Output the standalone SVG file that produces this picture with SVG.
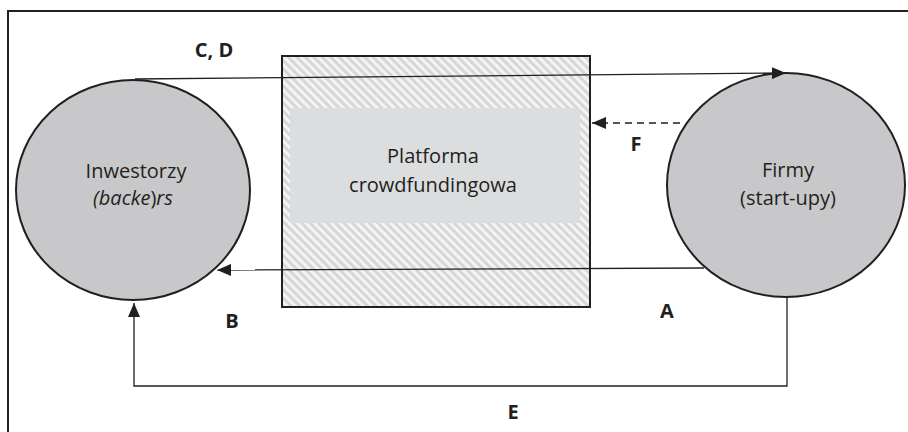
<svg xmlns="http://www.w3.org/2000/svg" width="908" height="432" viewBox="0 0 908 432">
<defs>
<pattern id="hatch" width="6" height="6" patternUnits="userSpaceOnUse" patternTransform="rotate(-45)">
<rect width="6" height="6" fill="#f4f4f5"/>
<rect width="3" height="6" fill="#d6d7d9"/>
</pattern>
<marker id="arrL" viewBox="0 0 14 12" refX="14" refY="6" markerWidth="14" markerHeight="12" markerUnits="userSpaceOnUse" orient="auto">
<path d="M0,0 L14,6 L0,12 Z" fill="#231f20"/>
</marker>
</defs>
<style>
.frame{fill:none;stroke:#231f20;stroke-width:2}
.node{fill:#c8c8ca;stroke:#231f20;stroke-width:2}
.conn{fill:none;stroke:#231f20;stroke-width:1.3}
.dash{stroke-dasharray:7,5}
.t{font-family:"Open Sans","Noto Sans","Liberation Sans",sans-serif;font-size:20px;fill:#231f20;text-anchor:middle}
.lbl{font-family:"Open Sans","Noto Sans","Liberation Sans",sans-serif;font-size:20px;font-weight:bold;fill:#231f20;text-anchor:middle}
</style>
<rect width="908" height="432" fill="#ffffff"/>
<path class="frame" d="M8,432 V11 H908"/>

<g id="platforma">
<rect x="282" y="56" width="308" height="251" fill="url(#hatch)" stroke="#231f20" stroke-width="2"/>
<rect x="290" y="108" width="290" height="115" fill="#dcdddf"/>
<text class="t" x="433" y="163">Platforma</text>
<text class="t" x="433" y="192">crowdfundingowa</text>
</g>

<g id="inwestorzy">
<ellipse class="node" cx="133" cy="190" rx="117" ry="110"/>
<text class="t" x="136" y="178">Inwestorzy</text>
<text class="t" x="133" y="205"><tspan font-style="italic">(backe</tspan>)<tspan font-style="italic">rs</tspan></text>
</g>

<g id="firmy">
<ellipse class="node" cx="786" cy="185" rx="119" ry="112"/>
<text class="t" x="788" y="177">Firmy</text>
<text class="t" x="788" y="205">(start-upy)</text>
</g>

<g id="connectors">
<path class="conn" d="M135,79 L786,73" marker-end="url(#arrL)"/>
<path class="conn dash" d="M680,123 L592,123" marker-end="url(#arrL)"/>
<path class="conn" d="M704,268 L217,270" marker-end="url(#arrL)"/>
<path class="conn" d="M787,298 V386 H134 V303" marker-end="url(#arrL)"/>
</g>

<g id="labels">
<text class="lbl" x="214" y="57">C, D</text>
<text class="lbl" x="636" y="151">F</text>
<text class="lbl" x="232" y="328">B</text>
<text class="lbl" x="667" y="318">A</text>
<text class="lbl" x="513" y="419">E</text>
</g>
</svg>
